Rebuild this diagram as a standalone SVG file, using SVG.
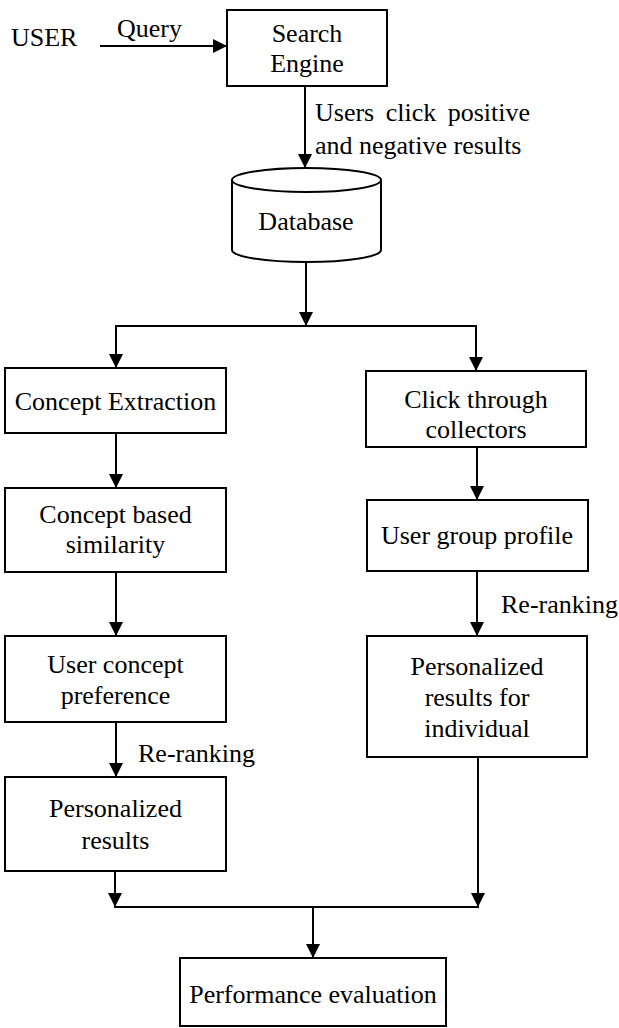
<svg xmlns="http://www.w3.org/2000/svg" width="619" height="1028" viewBox="0 0 619 1028">
<style>
  text { font-family: "Liberation Serif", "Times New Roman", serif; font-size: 26px; fill: #000; }
  .c { text-anchor: middle; }
  .box { fill: #fff; stroke: #000; stroke-width: 2; }
  .ln { fill: none; stroke: #000; stroke-width: 2; }
</style>
<defs>
  <marker id="ah" markerUnits="userSpaceOnUse" markerWidth="15" markerHeight="15" refX="14" refY="7" orient="auto">
    <path d="M0,0 L14,7 L0,14 z" fill="#000"/>
  </marker>
</defs>
<rect width="619" height="1028" fill="#fff"/>

<g id="connectors">
  <line class="ln" x1="100" y1="46" x2="227" y2="46" marker-end="url(#ah)"/>
  <line class="ln" x1="305" y1="86" x2="305" y2="168" marker-end="url(#ah)"/>
  <line class="ln" x1="306" y1="262" x2="306" y2="326" marker-end="url(#ah)"/>
  <line class="ln" x1="115" y1="326" x2="477" y2="326"/>
  <line class="ln" x1="116" y1="326" x2="116" y2="368" marker-end="url(#ah)"/>
  <line class="ln" x1="476" y1="326" x2="476" y2="371" marker-end="url(#ah)"/>
  <line class="ln" x1="116" y1="433" x2="116" y2="488" marker-end="url(#ah)"/>
  <line class="ln" x1="116" y1="572" x2="116" y2="636" marker-end="url(#ah)"/>
  <line class="ln" x1="116" y1="722" x2="116" y2="777" marker-end="url(#ah)"/>
  <line class="ln" x1="115" y1="871" x2="115" y2="907" marker-end="url(#ah)"/>
  <line class="ln" x1="477" y1="447" x2="477" y2="500" marker-end="url(#ah)"/>
  <line class="ln" x1="477" y1="571" x2="477" y2="636" marker-end="url(#ah)"/>
  <line class="ln" x1="478" y1="757" x2="478" y2="907" marker-end="url(#ah)"/>
  <line class="ln" x1="114" y1="907" x2="479" y2="907"/>
  <line class="ln" x1="313" y1="907" x2="313" y2="958" marker-end="url(#ah)"/>
  <text x="117" y="37">Query</text>
  <text x="315" y="121" word-spacing="5">Users click positive</text>
  <text x="315" y="154">and negative results</text>
  <text x="138" y="762">Re-ranking</text>
  <text x="501" y="613">Re-ranking</text>
</g>

<g id="user">
  <text x="11" y="46">USER</text>
</g>

<g id="search-engine">
  <rect class="box" x="227" y="10" width="160" height="76"/>
  <text class="c" x="307" y="42">Search</text>
  <text class="c" x="307" y="72">Engine</text>
</g>

<g id="database">
  <path class="box" d="M232,180 A74.5,12 0 0 1 381,180 L381,250 A74.5,12 0 0 1 232,250 Z"/>
  <path class="ln" d="M232,180 A74.5,12 0 0 0 381,180"/>
  <text class="c" x="306" y="230">Database</text>
</g>

<g id="concept-extraction">
  <rect class="box" x="5" y="368" width="221" height="65"/>
  <text class="c" x="115.5" y="410">Concept Extraction</text>
</g>

<g id="concept-similarity">
  <rect class="box" x="5" y="488" width="221" height="84"/>
  <text class="c" x="115.5" y="523">Concept based</text>
  <text class="c" x="115.5" y="553">similarity</text>
</g>

<g id="user-concept-preference">
  <rect class="box" x="5" y="636" width="221" height="86"/>
  <text class="c" x="115.5" y="673">User concept</text>
  <text class="c" x="115.5" y="704">preference</text>
</g>

<g id="personalized-results">
  <rect class="box" x="5" y="777" width="221" height="94"/>
  <text class="c" x="115.5" y="817">Personalized</text>
  <text class="c" x="115.5" y="849">results</text>
</g>

<g id="click-through">
  <rect class="box" x="366" y="371" width="220" height="76"/>
  <text class="c" x="476" y="408">Click through</text>
  <text class="c" x="476" y="438">collectors</text>
</g>

<g id="user-group-profile">
  <rect class="box" x="367" y="500" width="221" height="71"/>
  <text class="c" x="477" y="544">User group profile</text>
</g>

<g id="personalized-individual">
  <rect class="box" x="367" y="636" width="220" height="121"/>
  <text class="c" x="477" y="675">Personalized</text>
  <text class="c" x="477" y="706">results for</text>
  <text class="c" x="477" y="737">individual</text>
</g>

<g id="performance-evaluation">
  <rect class="box" x="180" y="958" width="266" height="68"/>
  <text class="c" x="313" y="1003">Performance evaluation</text>
</g>
</svg>
